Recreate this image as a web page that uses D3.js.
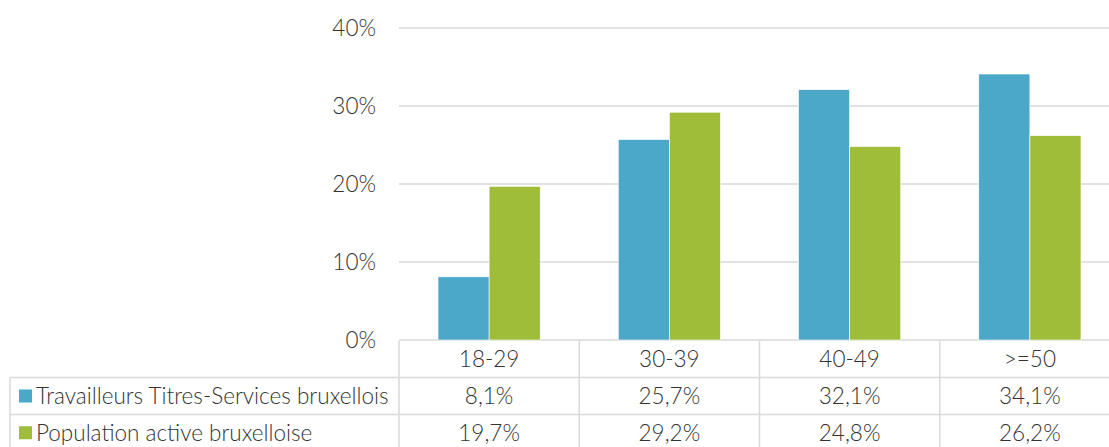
<!DOCTYPE html>
<html><head><meta charset="utf-8">
<script src="https://cdn.jsdelivr.net/npm/d3@7"></script>
<style>body{margin:0;background:#fff}svg{display:block}</style>
</head><body>
<script>
const categories = ["18-29","30-39","40-49",">=50"];
const seriesNames = ["Travailleurs Titres-Services bruxellois","Population active bruxelloise"];
const travailleurs = [8.1,25.7,32.1,34.1];
const population = [19.7,29.2,24.8,26.2];
const yTicks = [0,10,20,30,40];
const colors = ["#4BA8C8","#A0BD3A"];
const seriesValues = [travailleurs, population];

const W=1109,H=447;
const svg=d3.select("body").append("svg").attr("width",W).attr("height",H);
const font="Lato, 'Open Sans', sans-serif";
const fw=300;
const fs=22.5;
const textColor="#333333";
const gridColor="#D9D9D9";

const x=d3.scaleBand().domain(categories).range([399,1120]);
const y=d3.scaleLinear().domain([0,40]).range([340,28]);
const xs=d3.scaleBand().domain([0,1]).range([0,x.bandwidth()*0.567]);
const groupOff=(x.bandwidth()-x.bandwidth()*0.567)/2;

svg.append("g").selectAll("line").data(yTicks).join("line")
 .attr("x1",399).attr("x2",W).attr("y1",d=>y(d)).attr("y2",d=>y(d))
 .attr("stroke",gridColor).attr("stroke-width",1.5);
svg.append("g").selectAll("text").data(yTicks).join("text")
 .attr("x",376).attr("y",d=>y(d)).attr("dy","0.35em").attr("text-anchor","end")
 .attr("font-family",font).attr("font-weight",fw).attr("font-size",fs).attr("fill",textColor)
 .text(d=>d+"%");

seriesValues.forEach((vals,si)=>{
  svg.append("g").selectAll("rect").data(vals).join("rect")
   .attr("x",(d,i)=>x(categories[i])+groupOff+xs(si))
   .attr("width",xs.bandwidth())
   .attr("y",d=>y(d)).attr("height",d=>y(0)-y(d))
   .attr("fill",colors[si]).attr("stroke","#fff").attr("stroke-width",0.6);
});

const rowY=[341,377.5,414.5,451];
const tg=svg.append("g").attr("stroke",gridColor).attr("stroke-width",1.5);
tg.append("line").attr("x1",10).attr("x2",W).attr("y1",rowY[1]).attr("y2",rowY[1]);
tg.append("line").attr("x1",10).attr("x2",W).attr("y1",rowY[2]).attr("y2",rowY[2]);
tg.append("line").attr("x1",10).attr("x2",10).attr("y1",rowY[1]).attr("y2",H);
categories.forEach(c=>{
  tg.append("line").attr("x1",x(c)).attr("x2",x(c)).attr("y1",rowY[0]).attr("y2",H);
});

svg.append("g").selectAll("text").data(categories).join("text")
 .attr("x",d=>x(d)+x.bandwidth()/2).attr("y",(rowY[0]+rowY[1])/2).attr("dy","0.35em")
 .attr("text-anchor","middle").attr("font-family",font).attr("font-weight",fw).attr("font-size",fs).attr("fill",textColor)
 .text(d=>d);

const fmt=v=>v.toFixed(1).replace(".",",")+"%";
seriesValues.forEach((vals,si)=>{
  const cy=(rowY[si+1]+rowY[si+2])/2;
  svg.append("rect").attr("x",19).attr("y",cy-6.5).attr("width",13).attr("height",13).attr("fill",colors[si]);
  svg.append("text").attr("x",36).attr("y",cy).attr("dy","0.35em")
   .attr("font-family",font).attr("font-weight",fw).attr("font-size",fs).attr("fill",textColor).text(seriesNames[si]);
  svg.append("g").selectAll("text").data(vals).join("text")
   .attr("x",(d,i)=>x(categories[i])+x.bandwidth()/2).attr("y",cy).attr("dy","0.35em")
   .attr("text-anchor","middle").attr("font-family",font).attr("font-weight",fw).attr("font-size",fs).attr("fill",textColor)
   .text(d=>fmt(d));
});
</script>
</body></html>
